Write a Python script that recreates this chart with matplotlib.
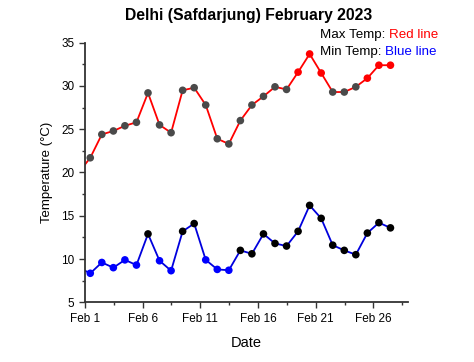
import matplotlib
matplotlib.use("Agg")
import matplotlib.pyplot as plt
from matplotlib.ticker import MultipleLocator, FixedLocator
import numpy as np

plt.rcParams['font.family'] = ['Liberation Sans', 'DejaVu Sans']

# daily readings, Jan 31 .. Feb 27 (first one sits just left of the axis)
days = np.arange(0, 28)
max_temp = [20.0, 21.7, 24.4, 24.8, 25.4, 25.8, 29.2, 25.5, 24.6, 29.5,
            29.8, 27.8, 23.9, 23.3, 26.0, 27.8, 28.8, 29.9, 29.6, 31.6,
            33.7, 31.5, 29.3, 29.3, 29.9, 30.9, 32.4, 32.4]
min_temp = [9.0, 8.35, 9.6, 9.0, 9.9, 9.3, 12.9, 9.8, 8.65, 13.2,
            14.1, 9.9, 8.8, 8.7, 11.0, 10.6, 12.9, 11.8, 11.5, 13.2,
            16.2, 14.7, 11.6, 11.0, 10.5, 13.0, 14.2, 13.6]
tick_days = [1, 6, 11, 16, 21, 26]
tick_labels = ["Feb 1", "Feb 6", "Feb 11", "Feb 16", "Feb 21", "Feb 26"]

x = days + 0.47
max_colors = ['red' if t >= 30 else '#4a4a4a' for t in max_temp]
min_colors = ['black' if t >= 10 else 'blue' for t in min_temp]

fig = plt.figure(figsize=(4.74, 3.62), dpi=100)
ax = fig.add_axes([0.179, 0.165, 0.682, 0.717])

ax.plot(x, max_temp, color='red', lw=1.3, zorder=2)
ax.scatter(x, max_temp, c=max_colors, s=30, zorder=3, linewidths=0)
ax.plot(x, min_temp, color='#0000dd', lw=1.3, zorder=2)
ax.scatter(x, min_temp, c=min_colors, s=30, zorder=3, linewidths=0)

ax.set_xlim(1, 29)
ax.set_ylim(5, 35)
ax.xaxis.set_major_locator(FixedLocator(tick_days))
ax.set_xticklabels(tick_labels)
ax.xaxis.set_minor_locator(FixedLocator(np.arange(3.5, 29, 5)))
ax.yaxis.set_major_locator(MultipleLocator(5))
ax.yaxis.set_minor_locator(MultipleLocator(2.5))

for s in ['top', 'right']:
    ax.spines[s].set_visible(False)
for s in ['left', 'bottom']:
    ax.spines[s].set_color('#333333')
    ax.spines[s].set_linewidth(1.3)
ax.tick_params(which='both', direction='out', color='#333333', width=1)
ax.tick_params(which='major', length=4, labelsize=8.5)
ax.tick_params(which='minor', length=2.5)

ax.set_xlabel("Date", fontsize=10.5, labelpad=8)
ax.set_ylabel("Temperature (°C)", fontsize=9.5, labelpad=6)
fig.text(0.524, 0.957, "Delhi (Safdarjung) February 2023", ha='center', va='center',
         fontsize=11.3, fontweight='bold')

t1 = fig.text(0.675, 0.903, "Max Temp: ", fontsize=9.6, va='center')
ax.annotate("Red line", xy=(1, 0), xycoords=t1, va='bottom', fontsize=9.6, color='red')
t2 = fig.text(0.675, 0.857, "Min Temp: ", fontsize=9.6, va='center')
ax.annotate("Blue line", xy=(1, 0), xycoords=t2, va='bottom', fontsize=9.6, color='blue')

fig.savefig("out.png", dpi=100)
